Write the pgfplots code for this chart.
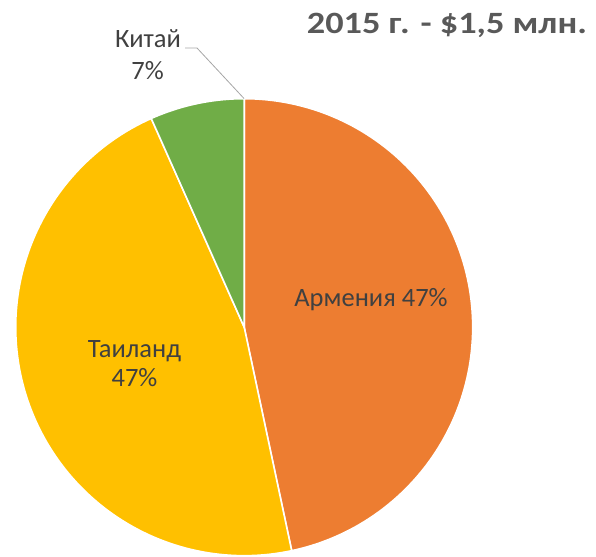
\documentclass[border=0pt]{standalone}
\usepackage{pgfplots}
\pgfplotsset{compat=1.18}
\usepackage{fontspec}
\setmainfont{Carlito}
\newfontfamily\titlefont[FakeStretch=1.17]{Carlito}
\definecolor{cOrange}{HTML}{ED7D31}
\definecolor{cYellow}{HTML}{FFC000}
\definecolor{cGreen}{HTML}{70AD47}
\definecolor{cText}{HTML}{404040}
\definecolor{cTitle}{HTML}{595959}
\definecolor{cLead}{HTML}{A6A6A6}
% data (million $)
\def\vA{0.7}% Армения
\def\vT{0.7}% Таиланд
\def\vC{0.1}% Китай
\pgfmathsetmacro\tot{\vA+\vT+\vC}
\pgfmathsetmacro\aA{90-360*\vA/\tot}
\pgfmathsetmacro\aT{\aA-360*\vT/\tot}
\pgfmathsetmacro\aC{\aT-360*\vC/\tot}
\def\cx{244.2}
\def\cy{228.8}
\def\r{228.5}
\begin{document}
\begin{tikzpicture}
\begin{axis}[
  scale only axis, width=596bp, height=556bp,
  xmin=0, xmax=596, ymin=0, ymax=556,
  hide axis, clip=false,
]
\addplot[fill=cOrange, draw=white, line width=1.6bp, domain=\aA:90, samples=120, variable=\t]
  ({\cx+\r*cos(\t)},{\cy+\r*sin(\t)}) -- (axis cs:\cx,\cy) -- cycle;
\addplot[fill=cYellow, draw=white, line width=1.6bp, domain=\aT:\aA, samples=120, variable=\t]
  ({\cx+\r*cos(\t)},{\cy+\r*sin(\t)}) -- (axis cs:\cx,\cy) -- cycle;
\addplot[fill=cGreen, draw=white, line width=1.6bp, domain=\aC:\aT, samples=40, variable=\t]
  ({\cx+\r*cos(\t)},{\cy+\r*sin(\t)}) -- (axis cs:\cx,\cy) -- cycle;
% leader line
\addplot[cLead, line width=0.8bp] coordinates {(185,508) (197,508) (244,457.5)};
% labels
\node[anchor=base, text=cText, font=\fontsize{26.5bp}{31bp}\selectfont, inner sep=0pt] at (axis cs:371,249.3) {Армения 47\%};
\node[anchor=base, text=cText, font=\fontsize{26.5bp}{31bp}\selectfont, inner sep=0pt] at (axis cs:134.5,198) {Таиланд};
\node[anchor=base, text=cText, font=\fontsize{26.5bp}{31bp}\selectfont, inner sep=0pt] at (axis cs:134.5,169) {47\%};
\node[anchor=base, text=cText, font=\fontsize{26.5bp}{31bp}\selectfont, inner sep=0pt] at (axis cs:148,508.7) {Китай};
\node[anchor=base, text=cText, font=\fontsize{26.5bp}{31bp}\selectfont, inner sep=0pt] at (axis cs:147.5,476) {7\%};
\node[anchor=base, text=cTitle, font=\titlefont\fontsize{31bp}{36bp}\selectfont\bfseries, inner sep=0pt] at (axis cs:447,522) {2015 г. - \$1,5 млн.};
\end{axis}
\path (current axis.south west) rectangle (current axis.north east);
\end{tikzpicture}
\end{document}
